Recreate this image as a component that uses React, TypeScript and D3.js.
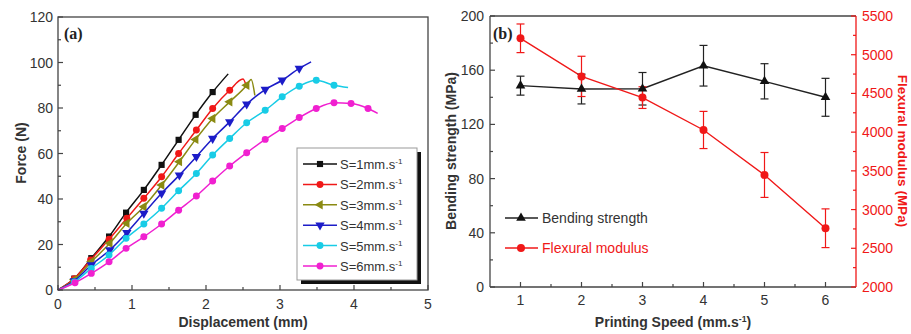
import React from "react";
import * as d3 from "d3";

// (a) force-displacement curves
const seriesLabels = ["1", "2", "3", "4", "5", "6"];
const seriesColors = ["#111111", "#f01818", "#8a8a12", "#1c1cc8", "#18cce6", "#f020d0"];
const seriesShapes = ["square", "circle", "left", "down", "circle", "circle"];

const s1X = [0, 0.22, 0.45, 0.69, 0.92, 1.16, 1.4, 1.63, 1.86, 2.09, 2.3];
const s1Y = [0, 5, 14, 23.5, 34, 44, 55, 66, 77, 87, 95];
const s2X = [0, 0.22, 0.44, 0.69, 0.93, 1.16, 1.4, 1.63, 1.87, 2.09, 2.32, 2.5, 2.55];
const s2Y = [0, 5, 13.2, 22.3, 31.5, 40.3, 49.8, 60, 70.3, 79.8, 87.8, 92.7, 89];
const s3X = [0, 0.22, 0.45, 0.7, 0.93, 1.16, 1.4, 1.64, 1.86, 2.09, 2.32, 2.55, 2.61, 2.66];
const s3Y = [0, 4.5, 12.4, 20.5, 29.3, 36.6, 46.1, 56.4, 66.2, 75.4, 82.7, 90, 92.5, 85.6];
const s4X = [0, 0.22, 0.45, 0.7, 0.93, 1.16, 1.4, 1.64, 1.87, 2.09, 2.32, 2.55, 2.8, 3.03, 3.26, 3.42];
const s4Y = [0, 4, 11, 17.6, 25.2, 33.7, 42.5, 50.5, 58.6, 66.6, 73.9, 81.7, 88.1, 92.2, 97.4, 100.3];
const s5X = [0, 0.22, 0.45, 0.69, 0.92, 1.16, 1.4, 1.63, 1.87, 2.09, 2.32, 2.55, 2.8, 3.03, 3.26, 3.49, 3.73, 3.92];
const s5Y = [0, 3.5, 9.5, 15.4, 22.7, 29, 35.9, 43.6, 51.2, 59.3, 66.6, 73.5, 79, 84.9, 89.6, 92.2, 90, 89];
const s6X = [0, 0.23, 0.45, 0.69, 0.92, 1.16, 1.4, 1.63, 1.87, 2.09, 2.32, 2.55, 2.8, 3.03, 3.26, 3.49, 3.73, 3.96, 4.19, 4.32];
const s6Y = [0, 3.2, 7.3, 12.4, 18.3, 23.4, 29, 35.1, 41.3, 47.9, 54.5, 60.3, 66.2, 71, 75.8, 79.8, 82.3, 82, 79.8, 77.6];
// points at the end of each curve that carry no marker
const seriesTail = [1, 2, 2, 1, 1, 1];

const forceTicks = [0, 20, 40, 60, 80, 100, 120];
const dispTicks = [0, 1, 2, 3, 4, 5];

// (b) properties vs printing speed
const speeds = [1, 2, 3, 4, 5, 6];
const bendStrength = [148.6, 146.1, 146.3, 163.3, 151.8, 140];
const bendErr = [7, 11, 12, 15, 13, 14];
const flexModulus = [5212, 4720, 4446, 4028, 3447, 2759];
const flexErr = [185, 260, 140, 240, 290, 250];
const strengthTicks = [0, 40, 80, 120, 160, 200];
const modulusTicks = [2000, 2500, 3000, 3500, 4000, 4500, 5000, 5500];

const FONT = "'Liberation Sans', Arial, sans-serif";
const AX = "#444";
const TXT = "#333";
const RED = "#f01818";

const sym = (shape: string, size: number) => {
  if (shape === "square") return { d: d3.symbol(d3.symbolSquare, size)()!, rot: 0 };
  if (shape === "circle") return { d: d3.symbol(d3.symbolCircle, size)()!, rot: 0 };
  if (shape === "left") return { d: d3.symbol(d3.symbolTriangle, size)()!, rot: -90 };
  if (shape === "down") return { d: d3.symbol(d3.symbolTriangle, size)()!, rot: 180 };
  return { d: d3.symbol(d3.symbolTriangle, size)()!, rot: 0 };
};

const Marker = ({ shape, x, y, color, size = 36 }: any) => {
  const s = sym(shape, size);
  return <path d={s.d} transform={`translate(${x},${y}) rotate(${s.rot})`} fill={color} />;
};

const Unit = ({ pre }: { pre: string }) => (
  <>
    {pre}
    <tspan dy={-5} fontSize="0.62em">-1</tspan>
  </>
);

const ChartA = () => {
  const x = d3.scaleLinear().domain([0, 5]).range([58, 428]);
  const y = d3.scaleLinear().domain([0, 120]).range([290, 17]);
  const xs = [s1X, s2X, s3X, s4X, s5X, s6X];
  const ys = [s1Y, s2Y, s3Y, s4Y, s5Y, s6Y];
  const line = d3
    .line<[number, number]>()
    .x((d) => x(d[0]))
    .y((d) => y(d[1]))
    .curve(d3.curveMonotoneX);
  const minorX = d3.range(0.5, 5, 1);
  const minorY = d3.range(10, 120, 20);
  const legX = 297, legY = 148, legW = 120, legH = 132;
  return (
    <g>
      {xs.map((xv, i) => {
        const pts = xv.map((v, j) => [v, ys[i][j]] as [number, number]);
        const marks = pts.slice(1, pts.length - seriesTail[i]);
        return (
          <g key={i}>
            <path d={line(pts)!} fill="none" stroke={seriesColors[i]} strokeWidth={1.5} />
            {marks.map((p, j) => (
              <Marker key={j} shape={seriesShapes[i]} x={x(p[0])} y={y(p[1])} color={seriesColors[i]} size={38} />
            ))}
          </g>
        );
      })}
      <rect x={58} y={17} width={370} height={273} fill="none" stroke={AX} strokeWidth={1.3} />
      {dispTicks.map((t) => (
        <g key={t}>
          <line x1={x(t)} x2={x(t)} y1={290} y2={285} stroke={AX} strokeWidth={1.2} />
          <text x={x(t)} y={309} textAnchor="middle" fontSize={14} fill={TXT}>{t}</text>
        </g>
      ))}
      {minorX.map((t) => (
        <line key={t} x1={x(t)} x2={x(t)} y1={290} y2={287} stroke={AX} strokeWidth={1.2} />
      ))}
      {forceTicks.map((t) => (
        <g key={t}>
          <line x1={58} x2={63} y1={y(t)} y2={y(t)} stroke={AX} strokeWidth={1.2} />
          <text x={53} y={y(t) + 5} textAnchor="end" fontSize={14} fill={TXT}>{t}</text>
        </g>
      ))}
      {minorY.map((t) => (
        <line key={t} x1={58} x2={61} y1={y(t)} y2={y(t)} stroke={AX} strokeWidth={1.2} />
      ))}
      <text x={243} y={327} textAnchor="middle" fontSize={14} fontWeight="bold" fill={TXT}>Displacement (mm)</text>
      <text transform="translate(26,153) rotate(-90)" textAnchor="middle" fontSize={14} fontWeight="bold" fill={TXT}>Force (N)</text>
      <text x={64} y={39} fontSize={16} fontWeight="bold" fontFamily="'Liberation Serif', serif" fill="#222">(a)</text>
      <rect x={legX + 4} y={legY + 4} width={legW} height={legH} fill="#111" />
      <rect x={legX} y={legY} width={legW} height={legH} fill="#fff" stroke="#999" strokeWidth={1} />
      {seriesLabels.map((s, i) => {
        const ly = 164 + i * 20.4;
        return (
          <g key={s}>
            <line x1={303} x2={337} y1={ly} y2={ly} stroke={seriesColors[i]} strokeWidth={1.5} />
            <Marker shape={seriesShapes[i]} x={320} y={ly} color={seriesColors[i]} size={38} />
            <text x={340} y={ly + 5} fontSize={13} fill={TXT}>
              <Unit pre={`S=${s}mm.s`} />
            </text>
          </g>
        );
      })}
    </g>
  );
};

const ChartB = () => {
  const x = d3.scaleLinear().domain([0.5, 6.5]).range([490, 856]);
  const yL = d3.scaleLinear().domain([0, 200]).range([287, 16]);
  const yR = d3.scaleLinear().domain([2000, 5500]).range([287, 16]);
  const bendLine = d3.line<number>().x((_, i) => x(speeds[i])).y((d) => yL(d))(bendStrength)!;
  const flexLine = d3.line<number>().x((_, i) => x(speeds[i])).y((d) => yR(d))(flexModulus)!;
  const cap = 4;
  const errBar = (cx: number, lo: number, hi: number, color: string, k: string) => (
    <g key={k} stroke={color} strokeWidth={1.2}>
      <line x1={cx} x2={cx} y1={lo} y2={hi} />
      <line x1={cx - cap} x2={cx + cap} y1={lo} y2={lo} />
      <line x1={cx - cap} x2={cx + cap} y1={hi} y2={hi} />
    </g>
  );
  return (
    <g>
      <path d={bendLine} fill="none" stroke="#222" strokeWidth={1.4} />
      <path d={flexLine} fill="none" stroke={RED} strokeWidth={1.4} />
      {speeds.map((s, i) =>
        errBar(x(s), yL(bendStrength[i] - bendErr[i]), yL(bendStrength[i] + bendErr[i]), "#222", `b${i}`)
      )}
      {speeds.map((s, i) =>
        errBar(x(s), yR(flexModulus[i] - flexErr[i]), yR(flexModulus[i] + flexErr[i]), RED, `f${i}`)
      )}
      {speeds.map((s, i) => (
        <Marker key={`bm${i}`} shape="up" x={x(s)} y={yL(bendStrength[i])} color="#111" size={40} />
      ))}
      {speeds.map((s, i) => (
        <Marker key={`fm${i}`} shape="circle" x={x(s)} y={yR(flexModulus[i])} color={RED} size={50} />
      ))}
      <line x1={490} x2={856} y1={16} y2={16} stroke={AX} strokeWidth={1.3} />
      <line x1={490} x2={856} y1={287} y2={287} stroke={AX} strokeWidth={1.3} />
      <line x1={490} x2={490} y1={16} y2={287} stroke={AX} strokeWidth={1.3} />
      <line x1={856} x2={856} y1={16} y2={287} stroke={RED} strokeWidth={1.3} />
      {speeds.map((s) => (
        <g key={s}>
          <line x1={x(s)} x2={x(s)} y1={287} y2={282} stroke={AX} strokeWidth={1.2} />
          <text x={x(s)} y={305} textAnchor="middle" fontSize={14} fill={TXT}>{s}</text>
        </g>
      ))}
      {d3.range(1.5, 6.5, 1).map((t) => (
        <line key={t} x1={x(t)} x2={x(t)} y1={287} y2={284} stroke={AX} strokeWidth={1.2} />
      ))}
      {strengthTicks.map((t) => (
        <g key={t}>
          <line x1={490} x2={495} y1={yL(t)} y2={yL(t)} stroke={AX} strokeWidth={1.2} />
          <text x={484} y={yL(t) + 5} textAnchor="end" fontSize={14} fill={TXT}>{t}</text>
        </g>
      ))}
      {d3.range(20, 200, 40).map((t) => (
        <line key={t} x1={490} x2={493} y1={yL(t)} y2={yL(t)} stroke={AX} strokeWidth={1.2} />
      ))}
      {modulusTicks.map((t) => (
        <g key={t}>
          <line x1={851} x2={856} y1={yR(t)} y2={yR(t)} stroke={RED} strokeWidth={1.2} />
          <text x={862} y={yR(t) + 5} fontSize={14} fill={RED}>{t}</text>
        </g>
      ))}
      {d3.range(2250, 5500, 500).map((t) => (
        <line key={t} x1={853} x2={856} y1={yR(t)} y2={yR(t)} stroke={RED} strokeWidth={1.2} />
      ))}
      <text x={673} y={327} textAnchor="middle" fontSize={14} fontWeight="bold" fill={TXT}>
        <Unit pre="Printing Speed (mm.s" />
        <tspan dy={5}>)</tspan>
      </text>
      <text transform="translate(456,151) rotate(-90)" textAnchor="middle" fontSize={14} fontWeight="bold" fill={TXT}>
        Bending strength (MPa)
      </text>
      <text transform="translate(898,151) rotate(90)" textAnchor="middle" fontSize={13.5} fontWeight="bold" fill={RED}>
        Flexural modulus (MPa)
      </text>
      <text x={493} y={39} fontSize={16} fontWeight="bold" fontFamily="'Liberation Serif', serif" fill="#222">(b)</text>
      <line x1={505} x2={538} y1={218} y2={218} stroke="#222" strokeWidth={1.4} />
      <Marker shape="up" x={521} y={218} color="#111" size={40} />
      <text x={542} y={223} fontSize={14} fill={TXT}>Bending strength</text>
      <line x1={505} x2={538} y1={248} y2={248} stroke={RED} strokeWidth={1.4} />
      <Marker shape="circle" x={521} y={248} color={RED} size={50} />
      <text x={542} y={253} fontSize={14} fill={RED}>Flexural modulus</text>
    </g>
  );
};

export default function App() {
  return (
    <svg
      width={911}
      height={334}
      style={{ position: "absolute", left: 0, top: 0, background: "#fff" }}
      fontFamily={FONT}
    >
      <ChartA />
      <ChartB />
    </svg>
  );
}
